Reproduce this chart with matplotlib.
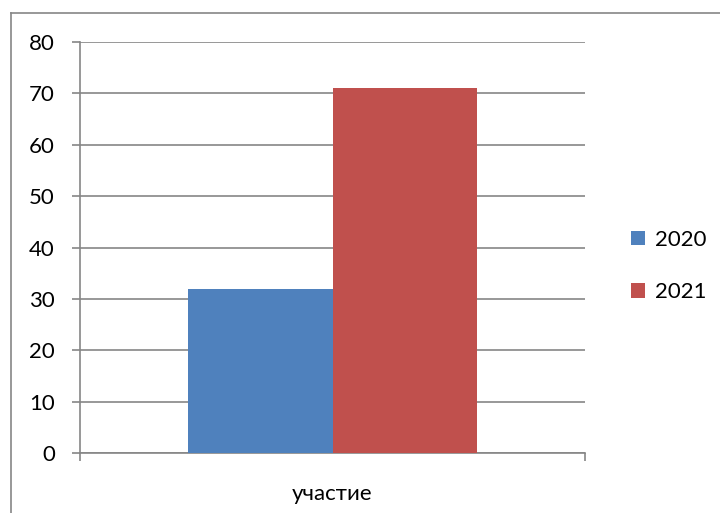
import matplotlib
matplotlib.use("Agg")
import matplotlib.pyplot as plt
from matplotlib.lines import Line2D
from matplotlib.patches import Patch

categories = ["участие"]
series_names = ["2020", "2021"]
values_2020 = [32]
values_2021 = [71]
colors = ["#4F81BD", "#C0504D"]
yticks = [0, 10, 20, 30, 40, 50, 60, 70, 80]

plt.rcParams['font.family'] = ['Lato', 'DejaVu Sans']
W, H = 720, 513
fig = plt.figure(figsize=(W / 100, H / 100), dpi=100)
ax = fig.add_axes([80 / W, 1 - 453 / H, (585 - 80) / W, (453 - 42) / H])

grid_c = "#868686"
fs = 16
bw = 0.286
ax.bar([-bw / 2], values_2020, width=bw, color=colors[0], zorder=3)
ax.bar([bw / 2], values_2021, width=bw, color=colors[1], zorder=3)

ax.set_xlim(-0.5, 0.5)
ax.set_ylim(0, 80)
ax.set_yticks(yticks)
ax.set_yticklabels([str(v) for v in yticks], fontsize=fs)
ax.yaxis.grid(True, color=grid_c, linewidth=1.2, zorder=0)
ax.tick_params(axis='y', length=6, width=1.2, color=grid_c, pad=12)

ax.set_xticks([-0.5, 0.5])
ax.set_xticklabels(["", ""])
ax.set_xticks([0], minor=True)
ax.set_xticklabels(categories, minor=True, fontsize=fs)
ax.tick_params(axis='x', which='major', length=6, width=1.2, color=grid_c, direction='out')
ax.tick_params(axis='x', which='minor', length=0, pad=22)

for s in ['top', 'right']:
    ax.spines[s].set_visible(False)
for s in ['left', 'bottom']:
    ax.spines[s].set_color(grid_c)
    ax.spines[s].set_linewidth(1.2)

handles = [Patch(facecolor=colors[0]), Patch(facecolor=colors[1])]
fig.legend(handles, series_names, loc='center left',
           bbox_to_anchor=(611 / W, 1 - 266 / H), frameon=False, fontsize=fs,
           handlelength=0.65, handleheight=0.65, handletextpad=0.45, labelspacing=1.45)

fig.add_artist(Line2D([11 / W, 1.0], [1 - 13 / H, 1 - 13 / H], color=grid_c, linewidth=1.2))
fig.add_artist(Line2D([11 / W, 11 / W], [1 - 13 / H, 0], color=grid_c, linewidth=1.2))

fig.savefig("out.png", dpi=100)
